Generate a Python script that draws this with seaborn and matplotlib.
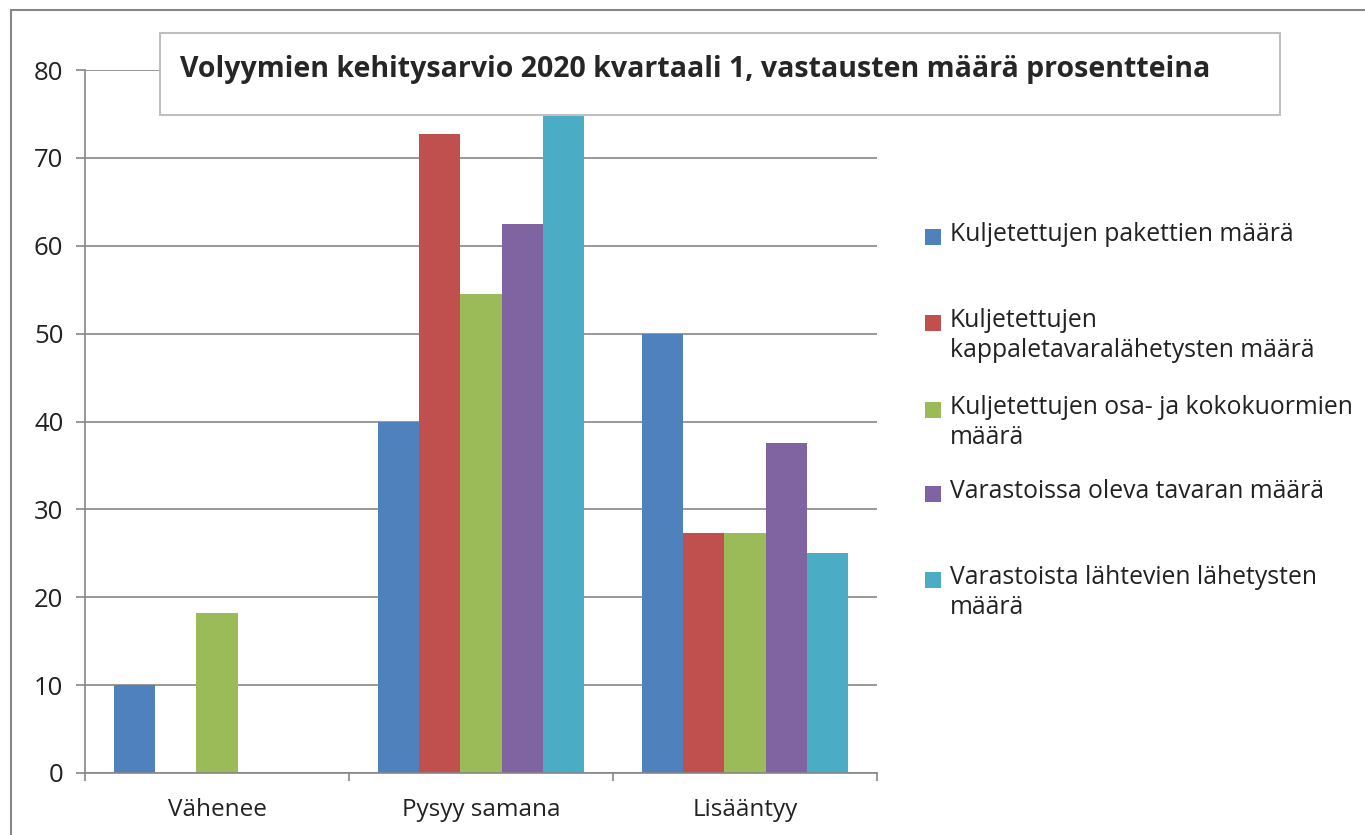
import pandas as pd
import matplotlib.pyplot as plt
import matplotlib.patches as mpatches
import seaborn as sns

# data
categories = ["Vähenee", "Pysyy samana", "Lisääntyy"]
series = [
    "Kuljetettujen pakettien määrä",
    "Kuljetettujen\nkappaletavaralähetysten määrä",
    "Kuljetettujen osa- ja kokokuormien\nmäärä",
    "Varastoissa oleva tavaran määrä",
    "Varastoista lähtevien lähetysten\nmäärä",
]
pakettien = [10, 40, 50]
kappaletavara = [0, 72.7, 27.3]
kuormien = [18.2, 54.5, 27.3]
varastoissa = [0, 62.5, 37.5]
lahtevien = [0, 75, 25]
colors = ["#4F81BD", "#C0504D", "#9BBB59", "#8064A2", "#4BACC6"]
title = "Volyymien kehitysarvio 2020 kvartaali 1, vastausten määrä prosentteina"

values = [pakettien, kappaletavara, kuormien, varastoissa, lahtevien]
rows = []
for name, vals in zip(series, values):
    for cat, v in zip(categories, vals):
        rows.append({"cat": cat, "series": name, "value": v})
df = pd.DataFrame(rows)

sns.set_style("white")
plt.rcParams["font.family"] = ["Open Sans", "DejaVu Sans"]

grey = "#868686"
W, H = 1365, 835
fig = plt.figure(figsize=(W / 100, H / 100), dpi=100)
ax = fig.add_axes([85 / W, 1 - 773 / H, (877 - 85) / W, (773 - 70) / H])

sns.barplot(data=df, x="cat", y="value", hue="series", palette=colors,
            saturation=1, width=0.78, linewidth=0, legend=False, ax=ax)

ax.set_xlim(-0.5, 2.5)
ax.set_ylim(0, 80)
ax.set_yticks(range(0, 81, 10))
ax.set_xlabel("")
ax.set_ylabel("")
ax.yaxis.grid(True, color=grey, linewidth=1.2)
ax.set_axisbelow(True)
for s in ["top", "right"]:
    ax.spines[s].set_visible(False)
for s in ["left", "bottom"]:
    ax.spines[s].set_color(grey)
    ax.spines[s].set_linewidth(1.2)
ax.tick_params(axis="y", direction="out", length=6.5, width=1.2, color=grey,
               labelcolor="#222222", pad=9, left=True)
for lab in ax.get_yticklabels():
    lab.set_fontsize(18.5)
ax.tick_params(axis="x", which="major", length=0, labelcolor="#222222", pad=18)
for lab in ax.get_xticklabels():
    lab.set_fontsize(17.5)
ax.set_xticks([-0.5, 0.5, 1.5, 2.5], minor=True)
ax.tick_params(axis="x", which="minor", direction="out", length=6, width=1.2,
               color=grey, bottom=True)

# outer chart border
fig.patches.append(mpatches.Rectangle((11 / W, -0.1), 1.2, 1 - 10 / H + 0.1,
                                      transform=fig.transFigure, fill=False,
                                      edgecolor=grey, linewidth=1.5))

# title box over the plot area
fig.patches.append(mpatches.Rectangle((160 / W, 1 - 115 / H), (1280 - 160) / W, (115 - 33) / H,
                                      transform=fig.transFigure, facecolor="white",
                                      edgecolor="#BFBFBF", linewidth=1.5, zorder=5))
fig.text(180 / W, 1 - 69 / H, title, fontsize=20.5, fontweight="bold",
         va="center", ha="left", zorder=6)

# legend on the right
legend_y = [237, 323, 410, 494, 580]
for name, col, y in zip(series, colors, legend_y):
    fig.patches.append(mpatches.Rectangle((925 / W, 1 - (y + 8) / H), 16 / W, 16 / H,
                                          transform=fig.transFigure, facecolor=col,
                                          edgecolor="none"))
    fig.text(950 / W, 1 - (y - 15) / H, name, fontsize=17.8, va="top", ha="left",
             color="#222222", linespacing=1.28)

fig.savefig("out.png", dpi=100, facecolor="white")
